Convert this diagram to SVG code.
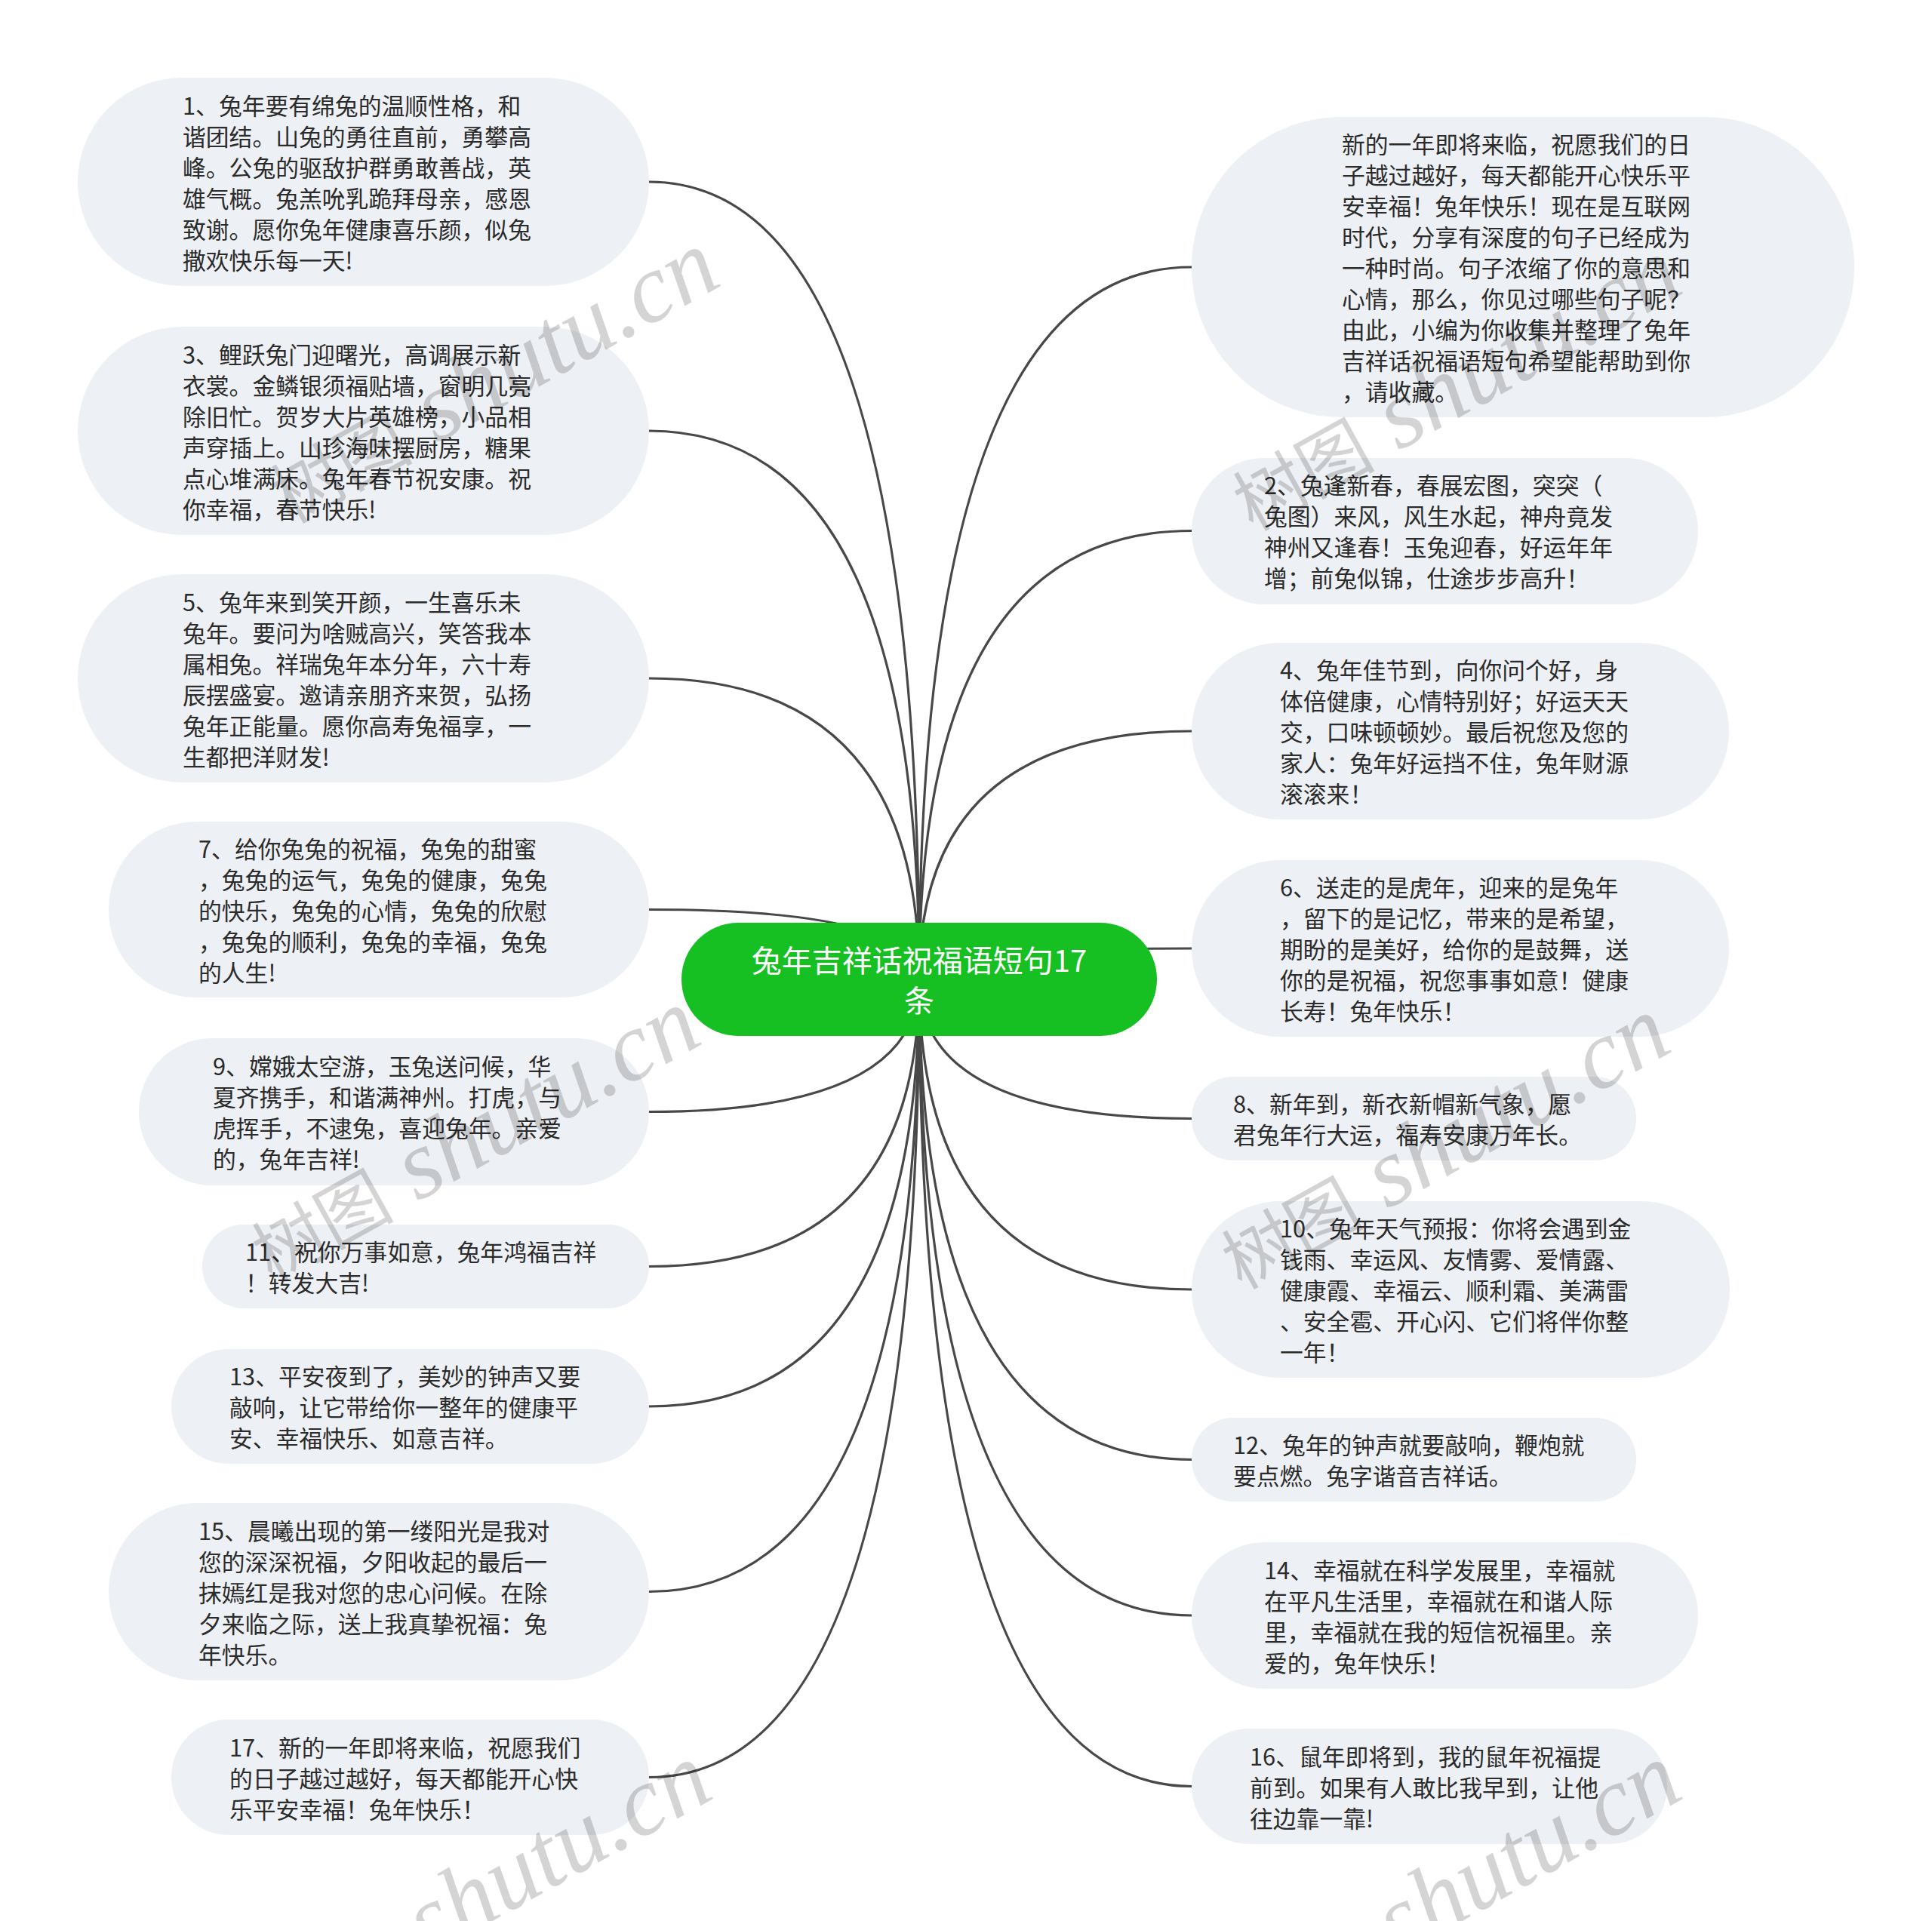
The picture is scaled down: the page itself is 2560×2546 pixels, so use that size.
<svg xmlns="http://www.w3.org/2000/svg" width="2560" height="2546" viewBox="0 0 2560 2546">
<style>
.node rect{fill:#EDF0F4;}
.t{font-family:"Noto Sans CJK SC","Noto Sans",sans-serif;font-size:30.8px;fill:#2b2b2b;}
.root rect{fill:#16BF22;}
.rt{font-family:"Noto Sans CJK SC","Noto Sans",sans-serif;font-size:40px;fill:#ffffff;text-anchor:middle;}
.conn path{fill:none;stroke:#484848;stroke-width:3.2;stroke-linecap:round;}
.wm{fill:#000000;fill-opacity:0.17;}
.wm1{font-family:"Noto Sans CJK SC",sans-serif;font-size:94px;}
.wm2{font-family:"Liberation Serif",serif;font-style:italic;font-size:130px;}
</style>
<rect width="2560" height="2546" fill="#ffffff"/>
<g id="connectors" class="conn">
<path d="M1218,1298 Q1218,241 860,241"/>
<path d="M1218,1298 Q1218,571 860,571"/>
<path d="M1218,1298 Q1218,899 860,899"/>
<path d="M1218,1298 Q1218,1205.5 860,1205.5"/>
<path d="M1218,1298 Q1218,1473.5 860,1473.5"/>
<path d="M1218,1298 Q1218,1678.5 860,1678.5"/>
<path d="M1218,1298 Q1218,1864 860,1864"/>
<path d="M1218,1298 Q1218,2109.5 860,2109.5"/>
<path d="M1218,1298 Q1218,2355.5 860,2355.5"/>
<path d="M1218,1298 Q1218,354 1579,354"/>
<path d="M1218,1298 Q1218,703.5 1579,703.5"/>
<path d="M1218,1298 Q1218,969 1579,969"/>
<path d="M1218,1298 Q1218,1257 1579,1257"/>
<path d="M1218,1298 Q1218,1482.5 1579,1482.5"/>
<path d="M1218,1298 Q1218,1709 1579,1709"/>
<path d="M1218,1298 Q1218,1934.5 1579,1934.5"/>
<path d="M1218,1298 Q1218,2141 1579,2141"/>
<path d="M1218,1298 Q1218,2367.5 1579,2367.5"/>
</g>
<g id="root" class="root">
<rect x="903" y="1223" width="630" height="150" rx="75" ry="75"/>
<text class="rt" x="1218" y="1288">兔年吉祥话祝福语短句17</text>
<text class="rt" x="1218" y="1341">条</text>
</g>
<g id="n1" class="node">
<rect x="103" y="103" width="757" height="276" rx="138" ry="138"/>
<text class="t" y="151.5"><tspan x="242">1、兔年要有绵兔的温顺性格，和</tspan><tspan x="242" dy="41">谐团结。山兔的勇往直前，勇攀高</tspan><tspan x="242" dy="41">峰。公兔的驱敌护群勇敢善战，英</tspan><tspan x="242" dy="41">雄气概。兔羔吮乳跪拜母亲，感恩</tspan><tspan x="242" dy="41">致谢。愿你兔年健康喜乐颜，似兔</tspan><tspan x="242" dy="41">撒欢快乐每一天!</tspan></text>
</g>
<g id="n3" class="node">
<rect x="103" y="433" width="757" height="276" rx="138" ry="138"/>
<text class="t" y="481.5"><tspan x="242">3、鲤跃兔门迎曙光，高调展示新</tspan><tspan x="242" dy="41">衣裳。金鳞银须福贴墙，窗明几亮</tspan><tspan x="242" dy="41">除旧忙。贺岁大片英雄榜，小品相</tspan><tspan x="242" dy="41">声穿插上。山珍海味摆厨房，糖果</tspan><tspan x="242" dy="41">点心堆满床。兔年春节祝安康。祝</tspan><tspan x="242" dy="41">你幸福，春节快乐!</tspan></text>
</g>
<g id="n5" class="node">
<rect x="103" y="761" width="757" height="276" rx="138" ry="138"/>
<text class="t" y="809.5"><tspan x="242">5、兔年来到笑开颜，一生喜乐未</tspan><tspan x="242" dy="41">兔年。要问为啥贼高兴，笑答我本</tspan><tspan x="242" dy="41">属相兔。祥瑞兔年本分年，六十寿</tspan><tspan x="242" dy="41">辰摆盛宴。邀请亲朋齐来贺，弘扬</tspan><tspan x="242" dy="41">兔年正能量。愿你高寿兔福享，一</tspan><tspan x="242" dy="41">生都把洋财发!</tspan></text>
</g>
<g id="n7" class="node">
<rect x="144" y="1089" width="716" height="233" rx="116" ry="116"/>
<text class="t" y="1136.5"><tspan x="263">7、给你兔兔的祝福，兔兔的甜蜜</tspan><tspan x="263" dy="41">，兔兔的运气，兔兔的健康，兔兔</tspan><tspan x="263" dy="41">的快乐，兔兔的心情，兔兔的欣慰</tspan><tspan x="263" dy="41">，兔兔的顺利，兔兔的幸福，兔兔</tspan><tspan x="263" dy="41">的人生!</tspan></text>
</g>
<g id="n9" class="node">
<rect x="184" y="1376" width="676" height="195" rx="97" ry="97"/>
<text class="t" y="1425"><tspan x="282">9、嫦娥太空游，玉兔送问候，华</tspan><tspan x="282" dy="41">夏齐携手，和谐满神州。打虎，与</tspan><tspan x="282" dy="41">虎挥手，不逮兔，喜迎兔年。亲爱</tspan><tspan x="282" dy="41">的，兔年吉祥!</tspan></text>
</g>
<g id="n11" class="node">
<rect x="268" y="1623" width="592" height="111" rx="55" ry="55"/>
<text class="t" y="1671"><tspan x="325">11、祝你万事如意，兔年鸿福吉祥</tspan><tspan x="325" dy="41">！转发大吉!</tspan></text>
</g>
<g id="n13" class="node">
<rect x="227" y="1788" width="633" height="152" rx="76" ry="76"/>
<text class="t" y="1836"><tspan x="304">13、平安夜到了，美妙的钟声又要</tspan><tspan x="304" dy="41">敲响，让它带给你一整年的健康平</tspan><tspan x="304" dy="41">安、幸福快乐、如意吉祥。</tspan></text>
</g>
<g id="n15" class="node">
<rect x="144" y="1992" width="716" height="235" rx="117" ry="117"/>
<text class="t" y="2040.5"><tspan x="263">15、晨曦出现的第一缕阳光是我对</tspan><tspan x="263" dy="41">您的深深祝福，夕阳收起的最后一</tspan><tspan x="263" dy="41">抹嫣红是我对您的忠心问候。在除</tspan><tspan x="263" dy="41">夕来临之际，送上我真挚祝福：兔</tspan><tspan x="263" dy="41">年快乐。</tspan></text>
</g>
<g id="n17" class="node">
<rect x="227" y="2279" width="633" height="153" rx="76" ry="76"/>
<text class="t" y="2327.5"><tspan x="304">17、新的一年即将来临，祝愿我们</tspan><tspan x="304" dy="41">的日子越过越好，每天都能开心快</tspan><tspan x="304" dy="41">乐平安幸福！兔年快乐！</tspan></text>
</g>
<g id="n0" class="node">
<rect x="1579" y="155" width="878" height="398" rx="199" ry="199"/>
<text class="t" y="203"><tspan x="1778">新的一年即将来临，祝愿我们的日</tspan><tspan x="1778" dy="41">子越过越好，每天都能开心快乐平</tspan><tspan x="1778" dy="41">安幸福！兔年快乐！现在是互联网</tspan><tspan x="1778" dy="41">时代，分享有深度的句子已经成为</tspan><tspan x="1778" dy="41">一种时尚。句子浓缩了你的意思和</tspan><tspan x="1778" dy="41">心情，那么，你见过哪些句子呢？</tspan><tspan x="1778" dy="41">由此，小编为你收集并整理了兔年</tspan><tspan x="1778" dy="41">吉祥话祝福语短句希望能帮助到你</tspan><tspan x="1778" dy="41">，请收藏。</tspan></text>
</g>
<g id="n2" class="node">
<rect x="1579" y="607" width="671" height="194" rx="97" ry="97"/>
<text class="t" y="655"><tspan x="1675">2、兔逢新春，春展宏图，突突（</tspan><tspan x="1675" dy="41">兔图）来风，风生水起，神舟竟发</tspan><tspan x="1675" dy="41">神州又逢春！玉兔迎春，好运年年</tspan><tspan x="1675" dy="41">增；前兔似锦，仕途步步高升！</tspan></text>
</g>
<g id="n4" class="node">
<rect x="1579" y="852" width="712" height="234" rx="117" ry="117"/>
<text class="t" y="900"><tspan x="1696">4、兔年佳节到，向你问个好，身</tspan><tspan x="1696" dy="41">体倍健康，心情特别好；好运天天</tspan><tspan x="1696" dy="41">交，口味顿顿妙。最后祝您及您的</tspan><tspan x="1696" dy="41">家人：兔年好运挡不住，兔年财源</tspan><tspan x="1696" dy="41">滚滚来！</tspan></text>
</g>
<g id="n6" class="node">
<rect x="1579" y="1140" width="712" height="234" rx="117" ry="117"/>
<text class="t" y="1188"><tspan x="1696">6、送走的是虎年，迎来的是兔年</tspan><tspan x="1696" dy="41">，留下的是记忆，带来的是希望，</tspan><tspan x="1696" dy="41">期盼的是美好，给你的是鼓舞，送</tspan><tspan x="1696" dy="41">你的是祝福，祝您事事如意！健康</tspan><tspan x="1696" dy="41">长寿！兔年快乐！</tspan></text>
</g>
<g id="n8" class="node">
<rect x="1579" y="1427" width="589" height="111" rx="55" ry="55"/>
<text class="t" y="1475"><tspan x="1634">8、新年到，新衣新帽新气象，愿</tspan><tspan x="1634" dy="41">君兔年行大运，福寿安康万年长。</tspan></text>
</g>
<g id="n10" class="node">
<rect x="1579" y="1592" width="713" height="234" rx="117" ry="117"/>
<text class="t" y="1640"><tspan x="1696">10、兔年天气预报：你将会遇到金</tspan><tspan x="1696" dy="41">钱雨、幸运风、友情雾、爱情露、</tspan><tspan x="1696" dy="41">健康霞、幸福云、顺利霜、美满雷</tspan><tspan x="1696" dy="41">、安全雹、开心闪、它们将伴你整</tspan><tspan x="1696" dy="41">一年！</tspan></text>
</g>
<g id="n12" class="node">
<rect x="1579" y="1879" width="589" height="111" rx="55" ry="55"/>
<text class="t" y="1927"><tspan x="1634">12、兔年的钟声就要敲响，鞭炮就</tspan><tspan x="1634" dy="41">要点燃。兔字谐音吉祥话。</tspan></text>
</g>
<g id="n14" class="node">
<rect x="1579" y="2044" width="671" height="194" rx="97" ry="97"/>
<text class="t" y="2092.5"><tspan x="1675">14、幸福就在科学发展里，幸福就</tspan><tspan x="1675" dy="41">在平凡生活里，幸福就在和谐人际</tspan><tspan x="1675" dy="41">里，幸福就在我的短信祝福里。亲</tspan><tspan x="1675" dy="41">爱的，兔年快乐！</tspan></text>
</g>
<g id="n16" class="node">
<rect x="1579" y="2291" width="630" height="153" rx="76" ry="76"/>
<text class="t" y="2339.5"><tspan x="1656">16、鼠年即将到，我的鼠年祝福提</tspan><tspan x="1656" dy="41">前到。如果有人敢比我早到，让他</tspan><tspan x="1656" dy="41">往边靠一靠!</tspan></text>
</g>
<g id="watermarks" class="wm">
<text transform="translate(385,695) rotate(-29)"><tspan class="wm1">树图</tspan><tspan class="wm2"> shutu.cn</tspan></text>
<text transform="translate(1660,705) rotate(-29)"><tspan class="wm1">树图</tspan><tspan class="wm2"> shutu.cn</tspan></text>
<text transform="translate(360,1700) rotate(-29)"><tspan class="wm1">树图</tspan><tspan class="wm2"> shutu.cn</tspan></text>
<text transform="translate(1645,1710) rotate(-29)"><tspan class="wm1">树图</tspan><tspan class="wm2"> shutu.cn</tspan></text>
<text transform="translate(375,2700) rotate(-29)"><tspan class="wm1">树图</tspan><tspan class="wm2"> shutu.cn</tspan></text>
<text transform="translate(1660,2700) rotate(-29)"><tspan class="wm1">树图</tspan><tspan class="wm2"> shutu.cn</tspan></text>
</g>
</svg>
